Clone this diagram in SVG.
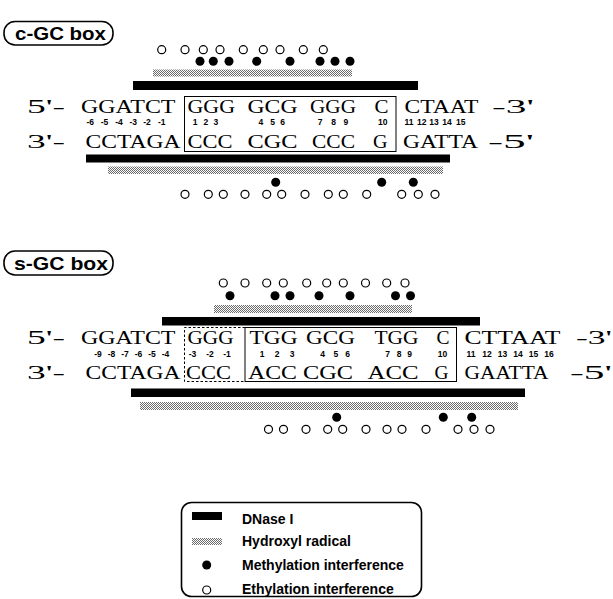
<svg xmlns="http://www.w3.org/2000/svg" width="613" height="599" viewBox="0 0 613 599">
<defs>
<pattern id="hr" width="2" height="2" patternUnits="userSpaceOnUse">
<rect width="2" height="2" fill="#fff"/>
<rect width="1" height="1" fill="#6a6a6a"/>
<rect x="1" y="1" width="1" height="1" fill="#6a6a6a"/>
</pattern>
<style>
.seq{font-family:"Liberation Serif","Times New Roman",serif;font-size:19.5px;fill:#000}
.num{font-family:"Liberation Sans",Arial,sans-serif;font-size:8.5px;font-weight:bold;fill:#000;text-anchor:middle}
.title{font-family:"Liberation Sans",Arial,sans-serif;font-size:19px;font-weight:bold;fill:#000}
.leg{font-family:"Liberation Sans",Arial,sans-serif;font-size:14px;font-weight:bold;fill:#000}
.dn{fill:#000}
.oh{fill:url(#hr)}
.me{fill:#000}
.et{fill:#fff;stroke:#000;stroke-width:1.2}
.box{fill:none;stroke:#000;stroke-width:1}
.dbox{fill:none;stroke:#000;stroke-width:1;stroke-dasharray:2.5,2}
.tb{fill:#fff;stroke:#000;stroke-width:1.6}
</style>
</defs>
<rect width="613" height="599" fill="#fff"/>

<!-- c-GC box -->
<g id="title-c">
<rect class="tb" x="4" y="21.5" width="109" height="23.5" rx="11"/>
<text class="title" x="15" y="39.5" textLength="91" lengthAdjust="spacingAndGlyphs">c-GC box</text>
</g>
<g id="c-top-footprint">
<g class="et">
<circle cx="161.7" cy="49.7" r="4"/><circle cx="185" cy="49.7" r="4"/><circle cx="203.3" cy="49.7" r="4"/><circle cx="220" cy="49.7" r="4"/><circle cx="243.3" cy="49.7" r="4"/><circle cx="263.3" cy="49.7" r="4"/><circle cx="280" cy="49.7" r="4"/><circle cx="303.3" cy="49.7" r="4"/><circle cx="323.3" cy="49.7" r="4"/>
</g>
<g class="me">
<circle cx="200" cy="61.3" r="4.5"/><circle cx="213.3" cy="61.3" r="4.5"/><circle cx="229" cy="61.3" r="4.5"/><circle cx="256.7" cy="61.3" r="4.5"/><circle cx="290" cy="61.3" r="4.5"/><circle cx="320" cy="61.3" r="4.5"/><circle cx="335" cy="61.3" r="4.5"/><circle cx="350" cy="61.3" r="4.5"/>
</g>
<rect class="oh" x="153" y="69.5" width="199" height="7"/>
<rect class="dn" x="133" y="81" width="285" height="9"/>
</g>
<g id="c-sequence">
<rect class="box" x="184.5" y="96.5" width="211.5" height="55"/>
<text class="seq" x="27" y="113" textLength="38" lengthAdjust="spacingAndGlyphs">5'-</text>
<text class="seq" x="81" y="113" textLength="94.5" lengthAdjust="spacingAndGlyphs">GGATCT</text>
<text class="seq" x="187.5" y="113" textLength="47.5" lengthAdjust="spacingAndGlyphs">GGG</text>
<text class="seq" x="247.5" y="113" textLength="50" lengthAdjust="spacingAndGlyphs">GCG</text>
<text class="seq" x="310" y="113" textLength="46" lengthAdjust="spacingAndGlyphs">GGG</text>
<text class="seq" x="374.5" y="113" textLength="14" lengthAdjust="spacingAndGlyphs">C</text>
<text class="seq" x="404.5" y="113" textLength="74" lengthAdjust="spacingAndGlyphs">CTAAT</text>
<text class="seq" x="492" y="113" textLength="42" lengthAdjust="spacingAndGlyphs">-3'</text>
<g class="num">
<text x="90.3" y="124.5">-6</text><text x="104.5" y="124.5">-5</text><text x="119" y="124.5">-4</text><text x="133.3" y="124.5">-3</text><text x="147" y="124.5">-2</text><text x="161.7" y="124.5">-1</text>
<text x="195" y="124.5">1</text><text x="205.8" y="124.5">2</text><text x="215.8" y="124.5">3</text>
<text x="260.8" y="124.5">4</text><text x="272.5" y="124.5">5</text><text x="282.5" y="124.5">6</text>
<text x="320" y="124.5">7</text><text x="333.5" y="124.5">8</text><text x="345.8" y="124.5">9</text>
<text x="382.8" y="124.5">10</text>
<text x="409" y="124.5">11</text><text x="421.7" y="124.5">12</text><text x="434" y="124.5">13</text><text x="447" y="124.5">14</text><text x="460.8" y="124.5">15</text>
</g>
<text class="seq" x="27" y="148" textLength="38" lengthAdjust="spacingAndGlyphs">3'-</text>
<text class="seq" x="85.5" y="148" textLength="95" lengthAdjust="spacingAndGlyphs">CCTAGA</text>
<text class="seq" x="187.5" y="148" textLength="45" lengthAdjust="spacingAndGlyphs">CCC</text>
<text class="seq" x="247.5" y="148" textLength="50" lengthAdjust="spacingAndGlyphs">CGC</text>
<text class="seq" x="312" y="148" textLength="43" lengthAdjust="spacingAndGlyphs">CCC</text>
<text class="seq" x="373" y="148" textLength="14.5" lengthAdjust="spacingAndGlyphs">G</text>
<text class="seq" x="403" y="148" textLength="75" lengthAdjust="spacingAndGlyphs">GATTA</text>
<text class="seq" x="488" y="148" textLength="46" lengthAdjust="spacingAndGlyphs">-5'</text>
</g>
<g id="c-bottom-footprint">
<rect class="dn" x="86" y="154.5" width="364" height="8"/>
<rect class="oh" x="108" y="166.5" width="335" height="7.5"/>
<g class="me">
<circle cx="275.7" cy="182.3" r="4.5"/><circle cx="381.7" cy="182.3" r="4.5"/><circle cx="413.3" cy="182.3" r="4.5"/>
</g>
<g class="et">
<circle cx="185" cy="194.3" r="4"/><circle cx="208.3" cy="194.3" r="4"/><circle cx="223.3" cy="194.3" r="4"/><circle cx="245" cy="194.3" r="4"/><circle cx="266.7" cy="194.3" r="4"/><circle cx="281.7" cy="194.3" r="4"/><circle cx="305" cy="194.3" r="4"/><circle cx="328.3" cy="194.3" r="4"/><circle cx="343.3" cy="194.3" r="4"/><circle cx="366.7" cy="194.3" r="4"/><circle cx="401.7" cy="194.3" r="4"/><circle cx="418.3" cy="194.3" r="4"/><circle cx="435" cy="194.3" r="4"/>
</g>
</g>

<!-- s-GC box -->
<g id="title-s">
<rect class="tb" x="4" y="251" width="109" height="24" rx="11"/>
<text class="title" x="14" y="269.5" textLength="94" lengthAdjust="spacingAndGlyphs">s-GC box</text>
</g>
<g id="s-top-footprint">
<g class="et">
<circle cx="223.3" cy="283" r="4"/><circle cx="245" cy="283" r="4"/><circle cx="266.7" cy="283" r="4"/><circle cx="283.3" cy="283" r="4"/><circle cx="306.7" cy="283" r="4"/><circle cx="326.7" cy="283" r="4"/><circle cx="343.3" cy="283" r="4"/><circle cx="365.5" cy="283" r="4"/><circle cx="386.7" cy="283" r="4"/><circle cx="405" cy="283" r="4"/>
</g>
<g class="me">
<circle cx="230" cy="295.7" r="4.5"/><circle cx="275" cy="295.7" r="4.5"/><circle cx="290" cy="295.7" r="4.5"/><circle cx="319" cy="295.7" r="4.5"/><circle cx="350" cy="295.7" r="4.5"/><circle cx="395.5" cy="295.7" r="4.5"/><circle cx="410.5" cy="295.7" r="4.5"/>
</g>
<rect class="oh" x="214" y="305" width="198" height="8"/>
<rect class="dn" x="162" y="317" width="318" height="8.5"/>
</g>
<g id="s-sequence">
<path class="dbox" d="M245,327.5 H184.5 V381.5 H245"/>
<rect class="box" x="245" y="327.5" width="211.5" height="54"/>
<text class="seq" x="27" y="343.5" textLength="38" lengthAdjust="spacingAndGlyphs">5'-</text>
<text class="seq" x="81" y="343.5" textLength="94.5" lengthAdjust="spacingAndGlyphs">GGATCT</text>
<text class="seq" x="187.5" y="343.5" textLength="46" lengthAdjust="spacingAndGlyphs">GGG</text>
<text class="seq" x="249.5" y="343.5" textLength="48" lengthAdjust="spacingAndGlyphs">TGG</text>
<text class="seq" x="306" y="343.5" textLength="49" lengthAdjust="spacingAndGlyphs">GCG</text>
<text class="seq" x="374.5" y="343.5" textLength="44" lengthAdjust="spacingAndGlyphs">TGG</text>
<text class="seq" x="436.5" y="343.5" textLength="13" lengthAdjust="spacingAndGlyphs">C</text>
<text class="seq" x="464.5" y="343.5" textLength="96" lengthAdjust="spacingAndGlyphs">CTTAAT</text>
<text class="seq" x="576" y="343.5" textLength="36" lengthAdjust="spacingAndGlyphs">-3'</text>
<g class="num">
<text x="98" y="356.5">-9</text><text x="111.5" y="356.5">-8</text><text x="125" y="356.5">-7</text><text x="138.5" y="356.5">-6</text><text x="152" y="356.5">-5</text><text x="165.5" y="356.5">-4</text>
<text x="192.5" y="356.5">-3</text><text x="210" y="356.5">-2</text><text x="227" y="356.5">-1</text>
<text x="262" y="356.5">1</text><text x="277" y="356.5">2</text><text x="292" y="356.5">3</text>
<text x="322.5" y="356.5">4</text><text x="335.8" y="356.5">5</text><text x="347.5" y="356.5">6</text>
<text x="387.5" y="356.5">7</text><text x="399" y="356.5">8</text><text x="409.5" y="356.5">9</text>
<text x="442.5" y="356.5">10</text>
<text x="471" y="356.5">11</text><text x="487" y="356.5">12</text><text x="502.5" y="356.5">13</text><text x="518" y="356.5">14</text><text x="533.5" y="356.5">15</text><text x="549" y="356.5">16</text>
</g>
<text class="seq" x="27" y="379.3" textLength="38" lengthAdjust="spacingAndGlyphs">3'-</text>
<text class="seq" x="85.5" y="379.3" textLength="95" lengthAdjust="spacingAndGlyphs">CCTAGA</text>
<text class="seq" x="186" y="379.3" textLength="45" lengthAdjust="spacingAndGlyphs">CCC</text>
<text class="seq" x="248" y="379.3" textLength="49" lengthAdjust="spacingAndGlyphs">ACC</text>
<text class="seq" x="303" y="379.3" textLength="50" lengthAdjust="spacingAndGlyphs">CGC</text>
<text class="seq" x="367.5" y="379.3" textLength="51" lengthAdjust="spacingAndGlyphs">ACC</text>
<text class="seq" x="434.5" y="379.3" textLength="14" lengthAdjust="spacingAndGlyphs">G</text>
<text class="seq" x="464.5" y="379.3" textLength="84" lengthAdjust="spacingAndGlyphs">GAATTA</text>
<text class="seq" x="570" y="379.3" textLength="42" lengthAdjust="spacingAndGlyphs">-5'</text>
</g>
<g id="s-bottom-footprint">
<rect class="dn" x="131" y="388.5" width="394" height="8.5"/>
<rect class="oh" x="140" y="402" width="378" height="8"/>
<g class="me">
<circle cx="336.7" cy="417.3" r="4.5"/><circle cx="443.3" cy="417.3" r="4.5"/><circle cx="471.7" cy="417.3" r="4.5"/>
</g>
<g class="et">
<circle cx="268.5" cy="429.3" r="4"/><circle cx="283.5" cy="429.3" r="4"/><circle cx="306" cy="429.3" r="4"/><circle cx="327.7" cy="429.3" r="4"/><circle cx="342.7" cy="429.3" r="4"/><circle cx="366" cy="429.3" r="4"/><circle cx="387" cy="429.3" r="4"/><circle cx="402" cy="429.3" r="4"/><circle cx="426" cy="429.3" r="4"/><circle cx="458" cy="429.3" r="4"/><circle cx="474" cy="429.3" r="4"/><circle cx="490" cy="429.3" r="4"/>
</g>
</g>

<!-- legend -->
<g id="legend">
<rect class="tb" x="181.5" y="502.5" width="240" height="94" rx="10"/>
<rect class="dn" x="192" y="512" width="30" height="8"/>
<rect class="oh" x="192" y="538" width="30" height="7"/>
<circle class="me" cx="206.7" cy="565" r="4.5"/>
<circle class="et" cx="206.7" cy="590" r="4"/>
<text class="leg" x="242" y="523.5">DNase I</text>
<text class="leg" x="242" y="546">Hydroxyl radical</text>
<text class="leg" x="242" y="569.5">Methylation interference</text>
<text class="leg" x="242" y="594">Ethylation interference</text>
</g>
</svg>
